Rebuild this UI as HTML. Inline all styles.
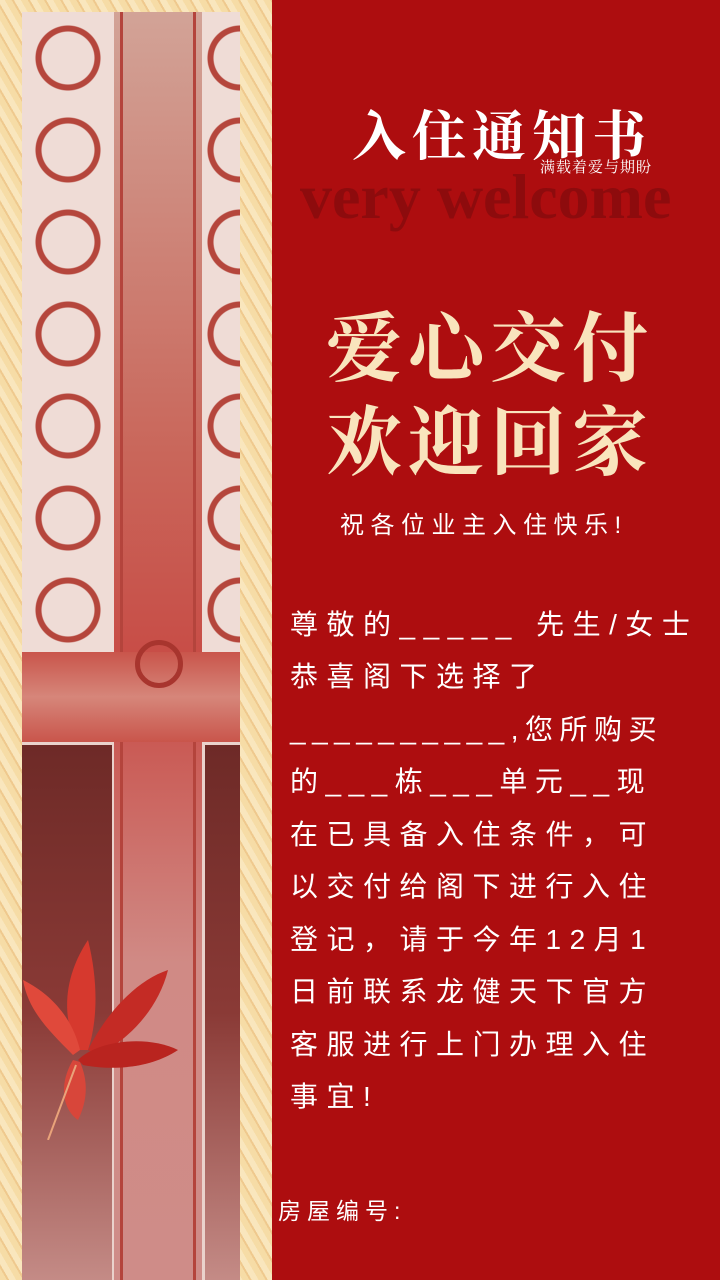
<!DOCTYPE html>
<html><head><meta charset="utf-8"><style>
body{margin:0;width:720px;height:1280px;overflow:hidden;background:#ad0d0f;position:relative;font-family:"Liberation Serif","Noto Serif CJK SC",serif}
.a{position:absolute}
.body-line{position:absolute;left:290px;color:#fff;font-family:"Liberation Sans","Noto Sans CJK SC",sans-serif;font-size:28px;letter-spacing:8.5px;white-space:nowrap}
</style></head><body>
<div class="a" style="left:0;top:0;width:272px;height:1280px;background:repeating-linear-gradient(60deg,#f6dca6 0 6px,#efc98e 6px 8px,#f9e6bd 8px 14px)"></div>
<div class="a" style="left:22px;top:12px;width:218px;height:1268px;background:#ead2cc"></div>
<div class="a" style="left:22px;top:12px;width:92px;height:640px;background:radial-gradient(circle at 50% 50%,transparent 26px,#b5463c 27px,#b5463c 32px,transparent 33px) 0 0/92px 92px,#efdcd6"></div>
<div class="a" style="left:200px;top:12px;width:40px;height:640px;background:radial-gradient(circle at 100% 50%,transparent 26px,#b5463c 27px,#b5463c 32px,transparent 33px) 0 0/40px 92px,#efdcd6"></div>
<div class="a" style="left:114px;top:12px;width:88px;height:1268px;background:linear-gradient(#d2a397,#c9665a 35%,#c84b45 52%,#d08a85 75%,#cf8c88)"></div>
<div class="a" style="left:120px;top:12px;width:76px;height:1268px;border-left:3px solid #b4443c;border-right:3px solid #b4443c;box-sizing:border-box"></div>
<div class="a" style="left:22px;top:652px;width:218px;height:90px;background:linear-gradient(#c9554b,#d6867a 50%,#c9554b)"></div>
<div class="a" style="left:135px;top:640px;width:48px;height:48px;border-radius:50%;border:5px solid #a8352e;box-sizing:border-box"></div>
<div class="a" style="left:22px;top:745px;width:90px;height:535px;background:linear-gradient(#6e2a27,#8a3a36 50%,#c48b86)"></div>
<div class="a" style="left:205px;top:745px;width:35px;height:535px;background:linear-gradient(#6e2a27,#8a3a36 50%,#c48b86)"></div>
<svg class="a" style="left:18px;top:920px" width="170" height="220" viewBox="0 0 170 220">
<path d="M60 130 C40 90 50 50 70 20 C80 60 80 100 70 130Z" fill="#d6392e"/>
<path d="M70 130 C90 90 120 60 150 50 C140 90 110 120 80 135Z" fill="#c42b25"/>
<path d="M55 135 C30 110 10 90 5 60 C35 75 55 100 62 130Z" fill="#e0493b"/>
<path d="M60 140 C80 120 130 115 160 130 C130 150 90 150 65 145Z" fill="#b9241f"/>
<path d="M55 140 C40 165 45 190 60 200 C70 180 70 160 62 142Z" fill="#d8463a"/>
<path d="M58 145 L30 220" stroke="#e9a37a" stroke-width="2"/>
</svg>
<div class="a" style="left:300px;top:160px;font-size:64px;font-weight:bold;color:#8d0b0d;white-space:nowrap">very welcome</div>
<div class="a" style="left:352px;top:94px;font-size:54px;font-weight:bold;color:#fff;white-space:nowrap;letter-spacing:6px">入住通知书</div>
<div class="a" style="left:540px;top:156px;font-size:15px;color:#fff;letter-spacing:1px">满载着爱与期盼</div>
<div class="a" style="left:326px;top:288px;font-size:76px;font-weight:bold;color:#f9e4bd;letter-spacing:6px;white-space:nowrap">爱心交付</div>
<div class="a" style="left:326px;top:382px;font-size:76px;font-weight:bold;color:#f9e4bd;letter-spacing:6px;white-space:nowrap">欢迎回家</div>
<div class="a" style="left:340px;top:505px;font-size:24px;color:#fff;font-family:'Liberation Sans','Noto Sans CJK SC',sans-serif;letter-spacing:6.5px;white-space:nowrap">祝各位业主入住快乐!</div>
<div class="body-line" style="top:603px">尊敬的_____ 先生/女士</div>
<div class="body-line" style="top:655px">恭喜阁下选择了</div>
<div class="body-line" style="top:708px;letter-spacing:6.5px">__________,您所购买</div>
<div class="body-line" style="top:760px;letter-spacing:7.5px">的___栋___单元__现</div>
<div class="body-line" style="top:813px">在已具备入住条件，可</div>
<div class="body-line" style="top:865px">以交付给阁下进行入住</div>
<div class="body-line" style="top:918px">登记，请于今年12月1</div>
<div class="body-line" style="top:970px">日前联系龙健天下官方</div>
<div class="body-line" style="top:1023px">客服进行上门办理入住</div>
<div class="body-line" style="top:1075px">事宜!</div>
<div class="body-line" style="top:1192px;left:278px;font-size:23px;letter-spacing:6px">房屋编号:</div>
</body></html>
